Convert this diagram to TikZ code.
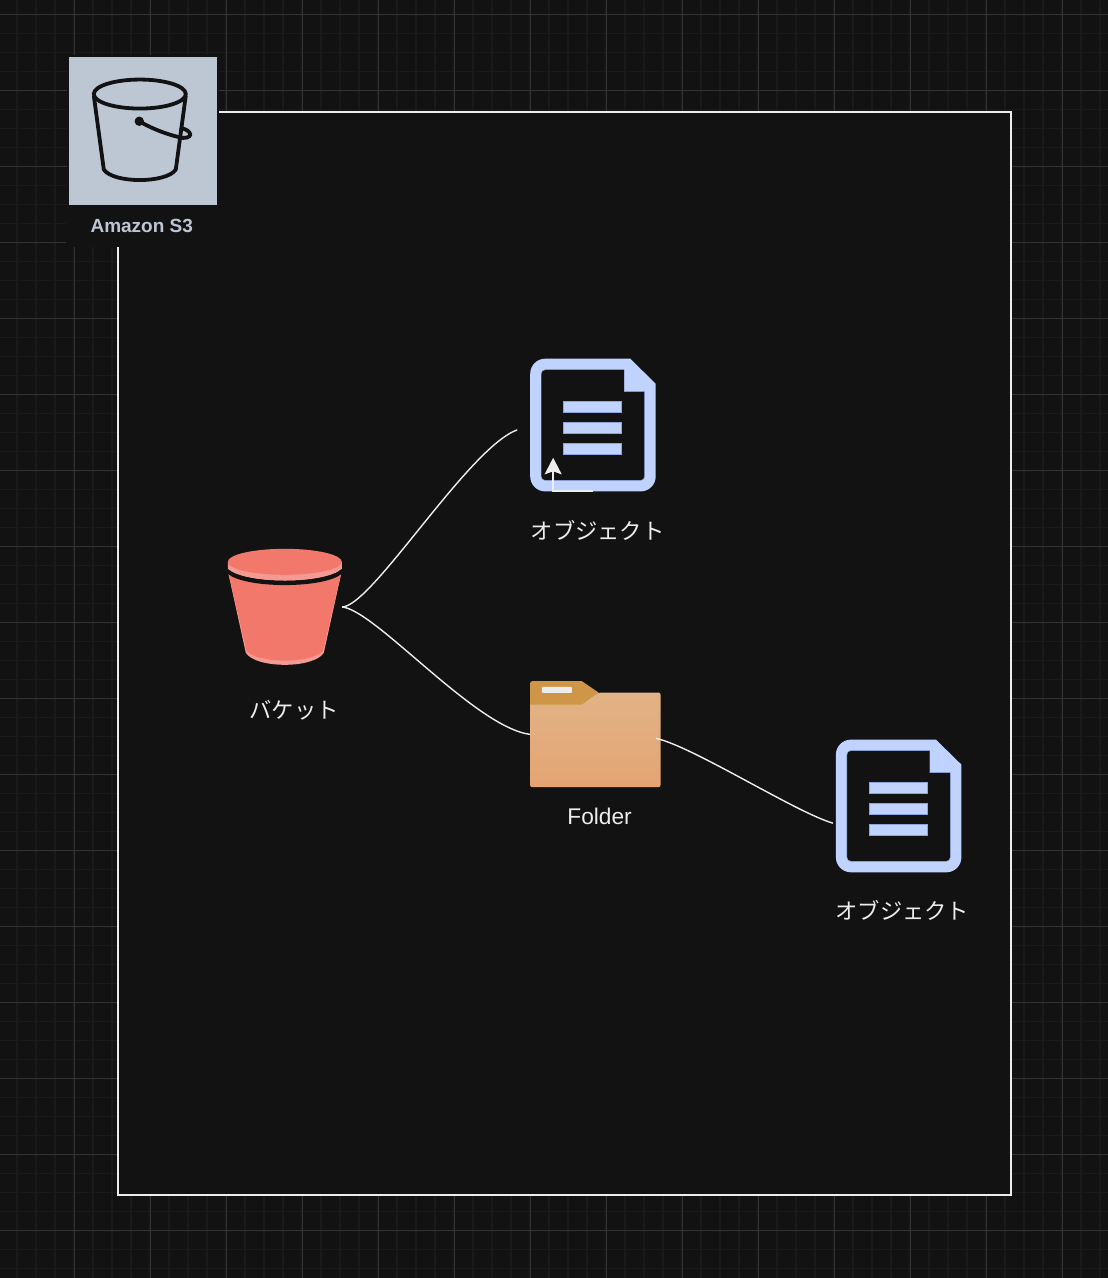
\documentclass[tikz,border=0pt]{standalone}
\usepackage{fontspec}
\setmainfont{Liberation Sans}
\newfontfamily\jpfont{Noto Sans CJK JP}
\usetikzlibrary{arrows.meta, positioning}
\definecolor{canvas}{HTML}{121212}
\definecolor{gridminor}{HTML}{1A1A1A}
\definecolor{gridmajor}{HTML}{333333}
\definecolor{inkwhite}{HTML}{EDEDED}
\definecolor{s3grey}{HTML}{BDC7D4}
\definecolor{docblue}{HTML}{C0D3FF}
\definecolor{docedge}{HTML}{8FA4E0}
\definecolor{bucketred}{HTML}{F2786C}
\definecolor{bucketpink}{HTML}{F39A92}
\definecolor{foldertab}{HTML}{CF9648}
\definecolor{foldertop}{HTML}{E1B386}
\definecolor{folderlow}{HTML}{E5A472}

\begin{document}
\begin{tikzpicture}[
    x=1pt, y=-1pt,
    s3box/.style={fill=s3grey, minimum size=148.5pt, inner sep=0pt, preaction={draw=canvas, line width=4pt}},
    s3text/.style={fill=canvas, text=s3grey, font=\fontsize{19}{22}\selectfont\bfseries, minimum width=152pt, minimum height=41pt, inner sep=0pt},
    jptext/.style={text=inkwhite, font=\fontsize{22.3}{26}\selectfont\jpfont, inner sep=0pt},
    lattext/.style={text=inkwhite, font=\fontsize{22.7}{26}\selectfont, inner sep=0pt},
    bucketbox/.style={minimum width=114pt, minimum height=116pt, inner sep=0pt},
    docbox/.style={minimum width=125.5pt, minimum height=132.7pt, inner sep=0pt},
    folderbox/.style={minimum width=130.3pt, minimum height=106pt, inner sep=0pt},
    link/.style={draw=inkwhite, line width=1.4pt},
    stub/.style={draw=inkwhite, line width=1.5pt, -{Stealth[length=16.5pt, width=17pt, inset=3pt]}},
    s3glyph/.pic={
        \begin{scope}[draw=canvas, line width=3.8pt, line join=round]
            \draw (71.5,37.5) ellipse [x radius=46, y radius=14.5];
            \draw (25.5,39) -- (35.5,113) .. controls (45,127) and (98,127) .. (107.5,113) -- (117.5,39);
            \draw (71,64.7) .. controls (85,73) and (100,78) .. (109.5,80.3) .. controls (118,83) and (122,80) .. (122,78) .. controls (122,75) and (117,72) .. (111.5,71.3);
            \fill[canvas] (71,64.7) circle [radius=4.7];
        \end{scope}
    },
    bucketglyph/.pic={
        \fill[bucketpink] (0,22) -- (18,104) .. controls (28,120) and (86,120) .. (96,104) -- (114,22) -- cycle;
        \fill[bucketred] (0.8,25) -- (18.7,102) .. controls (30,115) and (84,115) .. (95.3,102) -- (113.2,25) -- cycle;
        \fill[canvas] (0,20) .. controls (18,35.6) and (96,35.6) .. (114,20) -- (114,25) .. controls (96,40) and (18,40) .. (0,25) -- cycle;
        \fill[bucketpink] (0,13) -- (0,20) .. controls (18,35.6) and (96,35.6) .. (114,20) -- (114,13) -- cycle;
        \fill[bucketred] (57,13) ellipse [x radius=57, y radius=13];
    },
    docglyph/.pic={
        \fill[docblue] (15,0) -- (100,0) -- (125.5,25) -- (125.5,117.7) arc [start angle=0, end angle=90, radius=15]
            -- (15,132.7) arc [start angle=90, end angle=180, radius=15]
            -- (0,15) arc [start angle=180, end angle=270, radius=15] -- cycle;
        \filldraw[fill=canvas, draw=docedge, line width=0.4pt] (15,11) -- (94,11) -- (94,33) -- (114.4,33) -- (114.4,117.7) arc [start angle=0, end angle=90, radius=4]
            -- (15,121.7) arc [start angle=90, end angle=180, radius=4]
            -- (11,15) arc [start angle=180, end angle=270, radius=4] -- cycle;
        \foreach \bary in {42.3,63.3,84.7} {
            \filldraw[fill=docblue, draw=docedge, line width=0.4pt] (33,\bary) rectangle (91,\bary+11);
        }
    },
    folderglyph/.pic={
        \shade[top color=foldertop, bottom color=folderlow, rounded corners=2pt] (0,20) -- (51.7,20) -- (68.3,11.3) -- (130.3,11.3) -- (130.3,106) -- (0,106) -- cycle;
        \fill[foldertab, rounded corners=2pt] (0,23.3) -- (0,0) -- (30,0) [sharp corners] -- (51.7,0) -- (68.3,11.3) -- (51.7,23.3) -- cycle;
        \fill[inkwhite, rounded corners=0.7pt] (11.7,5.7) rectangle (41.7,11.7);
    }
]
    % canvas and grid
    \useasboundingbox (0,0) rectangle (1108,1278);
    \fill[canvas] (0,0) rectangle (1108,1278);
    \foreach \k in {0,...,58} {
        \draw[gridminor, line width=1.6pt] (-2+19*\k,0) -- (-2+19*\k,1278);
    }
    \foreach \k in {0,...,67} {
        \draw[gridminor, line width=1.6pt] (0,14.5+19*\k) -- (1108,14.5+19*\k);
    }
    \foreach \k in {0,...,14} {
        \draw[gridmajor, line width=0.8pt] (-2+76*\k,0) -- (-2+76*\k,1278);
    }
    \foreach \k in {0,...,16} {
        \draw[gridmajor, line width=0.8pt] (0,14.5+76*\k) -- (1108,14.5+76*\k);
    }

    \filldraw[fill=canvas, draw=inkwhite, line width=1.6pt] (118,112) rectangle (1011,1195);

    \node[s3box] (s3) at (142.75,131) {};
    \pic at (s3.north west) {s3glyph};
    \node[s3text, below=0pt of s3, xshift=-1pt] (s3_label) {Amazon S3};

    \node[bucketbox] (bucket) at (285,607) {};
    \node[docbox, above right=57pt and 188pt of bucket] (obj_top) {};
    \node[folderbox, below right=16pt and 188pt of bucket] (folder) {};
    \node[docbox, below right=-48pt and 175pt of folder] (obj_low) {};

    \pic at (bucket.north west) {bucketglyph};
    \pic at (obj_top.north west) {docglyph};
    \pic at (folder.north west) {folderglyph};
    \pic at (obj_low.north west) {docglyph};

    \node[jptext, below=35pt of bucket, xshift=9pt] (bucket_label) {バケット};
    \node[jptext, below=28pt of obj_top, xshift=4.5pt] (obj_top_label) {オブジェクト};
    \node[lattext, below=20pt of folder, xshift=4pt] (folder_label) {Folder};
    \node[jptext, below=27pt of obj_low, xshift=3.5pt] (obj_low_label) {オブジェクト};

    \coordinate[left=13pt of obj_top, yshift=-4.6pt] (obj_top_in);
    \coordinate[left=3pt of obj_low, yshift=-17pt] (obj_low_in);
    \coordinate[right=-5pt of folder, yshift=-4pt] (folder_out);
    \coordinate[below=-1pt of obj_top] (stub_from);
    \coordinate[left=40pt of stub_from] (stub_bend);
    \coordinate[above=33pt of stub_bend] (stub_to);

    \draw[link] (bucket.east) .. controls +(30,-1) and +(-49,18) .. (obj_top_in);
    \draw[link] (bucket.east) .. controls +(33,3) and +(-55,-7) .. (folder.west);
    \draw[link] (folder_out) .. controls +(35,7) and +(-37,-10.7) .. (obj_low_in);
    \draw[stub] (stub_from) -- (stub_bend) -- (stub_to);
\end{tikzpicture}
\end{document}
